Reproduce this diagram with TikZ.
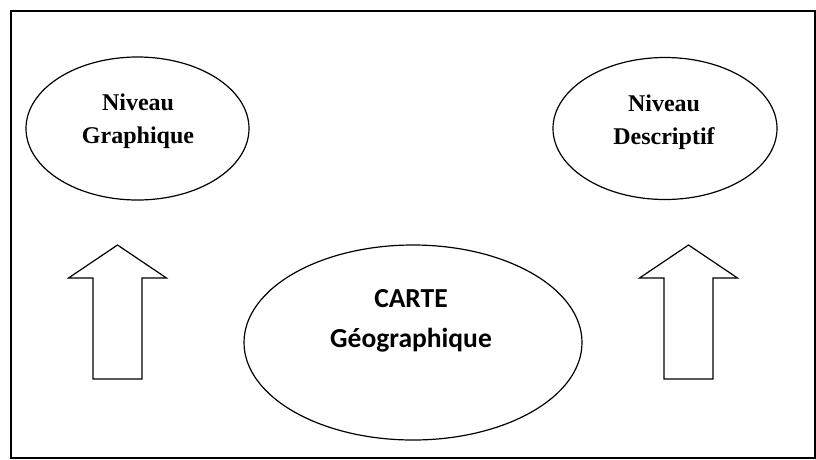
\documentclass[tikz,border=0pt]{standalone}
\usepackage{fontspec}
\setmainfont{Liberation Serif}
\newfontfamily\calibri{Carlito}
\usetikzlibrary{shapes.geometric, positioning}

\begin{document}
\begin{tikzpicture}[x=1pt, y=-1pt,
				line width=1.2pt,
				zone/.style={draw, ellipse, inner sep=0pt},
				niv/.style={align=center, font=\bfseries\fontsize{24}{33}\selectfont},
				carte/.style={align=center, font=\calibri\bfseries\fontsize{27.5}{40}\selectfont}]
				\useasboundingbox (0,0) rectangle (816,459);
				\draw[line width=1.5pt] (11,11) rectangle (815,458);
				% les trois niveaux
				\node at (137.5,128.5) (gra) [zone, minimum width=223pt, minimum height=143pt] {};
				\node at (665,128.5) (des) [zone, minimum width=224pt, minimum height=142pt] {};
				\node at (413,342.5) (crt) [zone, minimum width=338pt, minimum height=195pt] {};
				\node at (138,121) (graT) [niv] {Niveau\\Graphique};
				\node at (664,122) (desT) [niv] {Niveau\\Descriptif};
				\node at (411,321) (crtT) [carte] {CARTE\\Géographique};
				% les fleches
				\foreach \x in {117.5, 688.5}
					\draw[line join=miter] (\x,245) -- (\x+49,278) -- (\x+24.5,278) -- (\x+24.5,379)
						-- (\x-24.5,379) -- (\x-24.5,278) -- (\x-49,278) -- cycle;
			\end{tikzpicture}
\end{document}
